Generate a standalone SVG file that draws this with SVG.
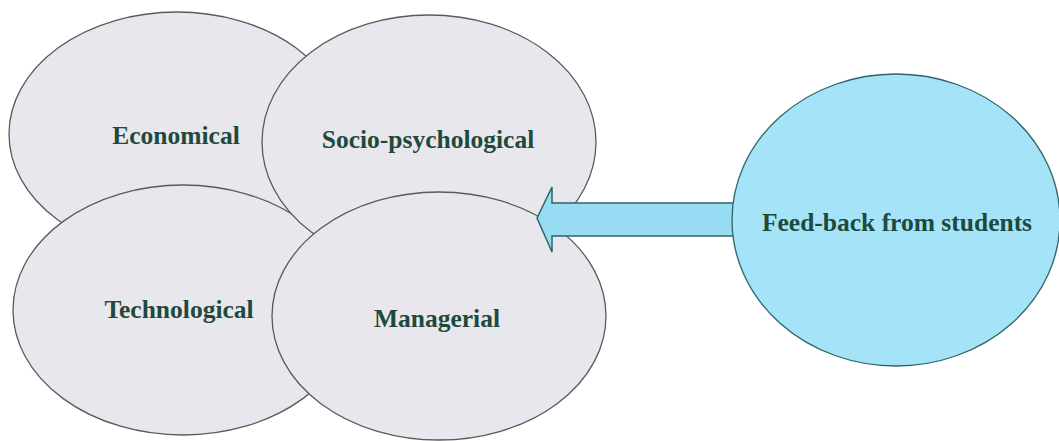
<svg xmlns="http://www.w3.org/2000/svg" width="1059" height="441" viewBox="0 0 1059 441">
  <style>
    .node { fill: #e9e7ee; stroke: #5a5a5a; stroke-width: 1.3; }
    .fb { fill: #a4e3f8; stroke: #2d6468; stroke-width: 1.3; }
    .arrow { fill: #98dcf3; stroke: #2d6468; stroke-width: 1.5; stroke-linejoin: miter; }
    .lbl { font-family: "Liberation Serif", "Times New Roman", serif; font-weight: bold; font-size: 25.5px; fill: #1f4a3b; text-anchor: middle; }
  </style>
  <rect x="0" y="0" width="1059" height="441" fill="#ffffff"/>
  <g id="economical">
    <ellipse class="node" cx="177" cy="134" rx="168" ry="122"/>
    <text class="lbl" x="176" y="144">Economical</text>
  </g>
  <g id="technological">
    <ellipse class="node" cx="183" cy="310" rx="170" ry="125"/>
    <text class="lbl" x="179" y="318">Technological</text>
  </g>
  <g id="socio-psychological">
    <ellipse class="node" cx="429" cy="142" rx="167" ry="127"/>
    <text class="lbl" x="428" y="148">Socio-psychological</text>
  </g>
  <g id="managerial">
    <ellipse class="node" cx="439" cy="316" rx="167" ry="124"/>
    <text class="lbl" x="437" y="327">Managerial</text>
  </g>
  <g id="connectors">
    <path class="arrow" d="M537,218 L552,187 L552,203 L734,203 L734,236 L552,236 L552,252 Z"/>
  </g>
  <g id="feedback">
    <ellipse class="fb" cx="896" cy="220" rx="164" ry="146"/>
    <text class="lbl" x="897" y="231">Feed-back from students</text>
  </g>
</svg>
